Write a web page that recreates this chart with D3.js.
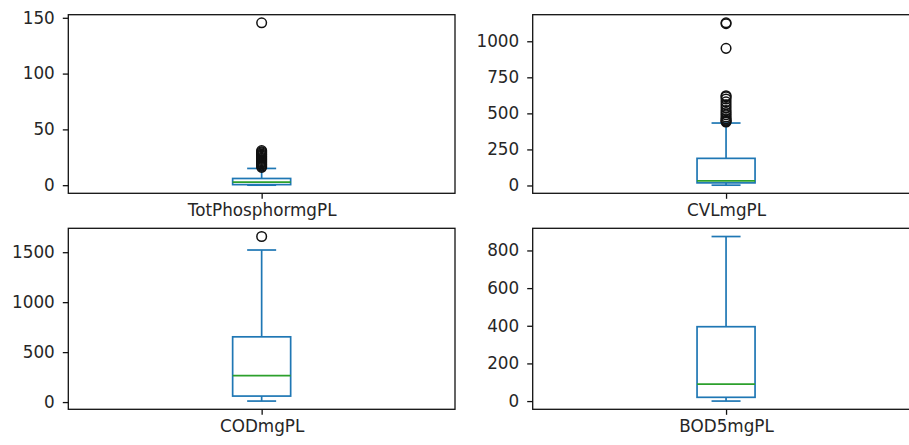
<!DOCTYPE html>
<html>
<head>
<meta charset="utf-8">
<script src="https://cdn.jsdelivr.net/npm/d3@7"></script>
<style>
  html, body { margin: 0; padding: 0; background: #fff; overflow: hidden; }
  svg { display: block; }
</style>
</head>
<body>
<svg id="chart" width="909" height="445"></svg>
<script>
// ---- data ----
const categories = ["TotPhosphormgPL", "CVLmgPL", "CODmgPL", "BOD5mgPL"];
const whiskerLow  = [0, 2, 10, 0];
const q1          = [0.5, 18, 60, 20];
const median      = [2.7, 32, 265, 90];
const q3          = [6, 188, 653, 395];
const whiskerHigh = [15, 433, 1522, 874];
const outliers = [
  [16, 17, 18, 19, 20, 21, 22, 23, 24, 25, 26, 27, 28, 29, 30, 31, 145.5],
  [440, 445, 452, 462, 475, 490, 505, 520, 540, 560, 580, 600, 615, 622, 951, 1122, 1128],
  [1657],
  []
];
const yTicks = [
  [0, 50, 100, 150],
  [0, 250, 500, 750, 1000],
  [0, 500, 1000, 1500],
  [0, 200, 400, 600, 800]
];

// ---- layout ----
const panels = [
  { x0: 68.3,  x1: 455,   y0: 14.7,  y1: 193.3 },
  { x0: 532.7, x1: 919.4, y0: 14.7,  y1: 193.3 },
  { x0: 68.3,  x1: 455,   y0: 228.3, y1: 409.3 },
  { x0: 532.7, x1: 919.4, y0: 228.3, y1: 409.3 }
];

const BLUE = "#1f77b4", GREEN = "#2ca02c", TXT = "#262626";
const FONT = "'DejaVu Sans', sans-serif";
const FS = "16.8px";
const svg = d3.select("#chart");

categories.forEach((cat, i) => {
  const p = panels[i];
  const allVals = [whiskerLow[i], whiskerHigh[i], ...outliers[i]];
  const mn = d3.min(allVals), mx = d3.max(allVals);
  const R = mx - mn;
  const y = d3.scaleLinear().domain([mn - 0.05 * R, mx + 0.05 * R]).range([p.y1, p.y0]);
  const x = d3.scaleLinear().domain([0.5, 1.5]).range([p.x0, p.x1]);

  const g = svg.append("g");

  const bw = 0.15, cw = 0.075;
  const cx = x(1);
  const sw = 1.7;
  // whiskers
  g.append("line").attr("x1", cx).attr("x2", cx)
    .attr("y1", y(q3[i])).attr("y2", y(whiskerHigh[i]))
    .attr("stroke", BLUE).attr("stroke-width", sw);
  g.append("line").attr("x1", cx).attr("x2", cx)
    .attr("y1", y(q1[i])).attr("y2", y(whiskerLow[i]))
    .attr("stroke", BLUE).attr("stroke-width", sw);
  // caps
  [whiskerLow[i], whiskerHigh[i]].forEach(v => {
    g.append("line").attr("x1", x(1 - cw / 2)).attr("x2", x(1 + cw / 2))
      .attr("y1", y(v)).attr("y2", y(v))
      .attr("stroke", BLUE).attr("stroke-width", sw);
  });
  // box
  g.append("rect")
    .attr("x", x(1 - bw / 2)).attr("width", x(1 + bw / 2) - x(1 - bw / 2))
    .attr("y", y(q3[i])).attr("height", y(q1[i]) - y(q3[i]))
    .attr("fill", "none").attr("stroke", BLUE).attr("stroke-width", sw);
  // median
  g.append("line").attr("x1", x(1 - bw / 2)).attr("x2", x(1 + bw / 2))
    .attr("y1", y(median[i])).attr("y2", y(median[i]))
    .attr("stroke", GREEN).attr("stroke-width", sw);
  // fliers
  g.selectAll("circle.fl").data(outliers[i]).enter().append("circle")
    .attr("class", "fl")
    .attr("cx", cx).attr("cy", d => y(d)).attr("r", 4.8)
    .attr("fill", "none").attr("stroke", "#111").attr("stroke-width", 1.5);

  // frame
  g.append("rect").attr("x", p.x0).attr("y", p.y0)
    .attr("width", p.x1 - p.x0).attr("height", p.y1 - p.y0)
    .attr("fill", "none").attr("stroke", "#111").attr("stroke-width", 1.3);

  // y axis
  const ya = g.append("g").attr("transform", `translate(${p.x0},0)`)
    .call(d3.axisLeft(y).tickValues(yTicks[i]).tickFormat(d3.format("d"))
      .tickSize(5.5).tickPadding(8));
  ya.select(".domain").remove();
  ya.selectAll(".tick line").attr("stroke", "#111").attr("stroke-width", 1.3);
  ya.selectAll(".tick text").attr("fill", TXT)
    .style("font-family", FONT).style("font-size", FS);

  // x axis
  const xa = g.append("g").attr("transform", `translate(0,${p.y1})`)
    .call(d3.axisBottom(x).tickValues([1]).tickFormat(() => cat)
      .tickSize(5.5).tickPadding(5.4));
  xa.select(".domain").remove();
  xa.selectAll(".tick line").attr("stroke", "#111").attr("stroke-width", 1.3);
  xa.selectAll(".tick text").attr("fill", TXT)
    .style("font-family", FONT).style("font-size", FS);
});
</script>
</body>
</html>
